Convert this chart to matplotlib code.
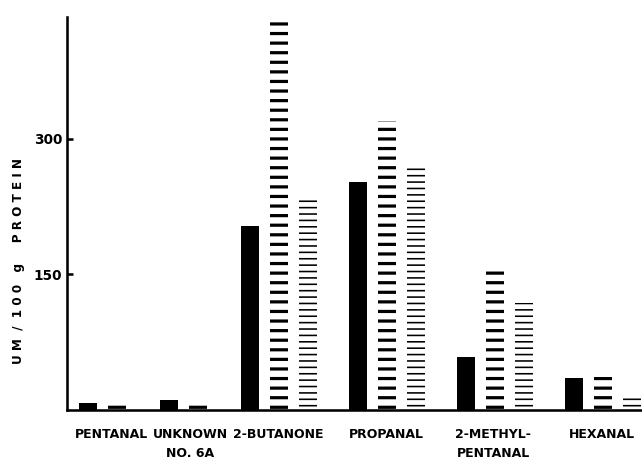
import matplotlib
matplotlib.use("Agg")
import matplotlib.pyplot as plt
import numpy as np

# ---- data ----
categories = ["PENTANAL", "UNKNOWN\nNO. 6A", "2-BUTANONE", "PROPANAL", "2-METHYL-\nPENTANAL", "HEXANAL"]
series_solid = [8, 11, 204, 252, 59, 35]
series_thick = [5, 5, 430, 320, 156, 37]
series_thin = [0, 0, 233, 271, 118, 15]
ytick_values = [150, 300]
ytick_labels = ["150", "300"]
ylabel = "U M  /  1 0 0   g     P R O T E I N"

# ---- layout ----
DPI = 115
W, H = 642, 459
group_pos = [20.5, 101.5, 183, 290.5, 399, 507]   # left bar centre per group (axis units)
label_pos = [44, 123, 211, 319, 426, 535]
offset = 29
width = 18

fig = plt.figure(figsize=(W / DPI, H / DPI), dpi=DPI)
ax = fig.add_axes([67 / W, (H - 410) / H, (641 - 67) / W, (410 - 17) / H])

gp = np.array(group_pos)
ax.bar(gp, series_solid, width=width, color="black", linewidth=0)

def hatched(x, vals, hatch, lw):
    with plt.rc_context({"hatch.linewidth": lw}):
        bars = ax.bar(x, vals, width=width, facecolor="white", edgecolor="black",
                      linewidth=0, hatch=hatch)
    for b in bars:
        if hasattr(b, "set_hatch_linewidth"):
            b.set_hatch_linewidth(lw)
    return bars

hatched(gp + offset, series_thick, "--", 2.0)
hatched(gp + 2 * offset, series_thin, "---", 1.0)

ax.set_xlim(0, 574)
ax.set_ylim(0, 435)

for s in ["top", "right"]:
    ax.spines[s].set_visible(False)
ax.spines["left"].set_linewidth(1.6)
ax.spines["bottom"].set_linewidth(1.6)

ax.set_yticks(ytick_values)
ax.set_yticklabels(ytick_labels, fontsize=8.5, fontweight="bold")
ax.tick_params(axis="y", direction="in", length=4, width=1.6, pad=3)

ax.set_xticks(label_pos)
ax.set_xticklabels(categories, fontsize=7.8, fontweight="bold", linespacing=1.6)
ax.tick_params(axis="x", length=0, pad=11)
for t in ax.get_xticklabels():
    t.set_verticalalignment("top")
    t.set_multialignment("center")

fig.text(19 / W, 1 - 261 / H, ylabel, rotation=90, ha="center", va="center",
         fontsize=7.5, fontweight="bold")

fig.savefig("out.png", dpi=DPI)
